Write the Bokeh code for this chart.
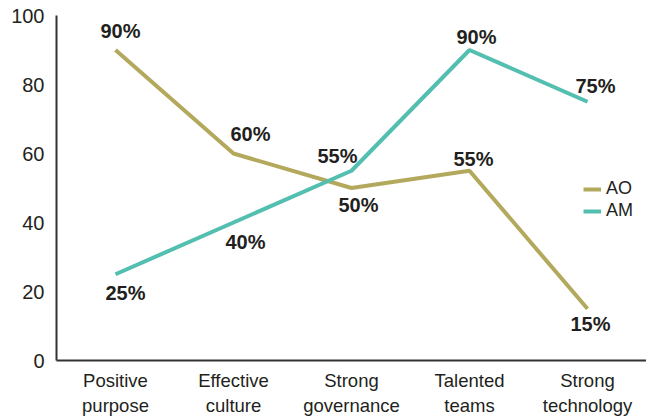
from bokeh.plotting import figure
from bokeh.models import ColumnDataSource, Legend, LegendItem, FixedTicker
from bokeh.core.properties import value
from bokeh.embed import file_html
from bokeh.resources import INLINE

categories = ["Positive\npurpose", "Effective\nculture", "Strong\ngovernance", "Talented\nteams", "Strong\ntechnology"]
ao_values = [90, 60, 50, 55, 15]
am_values = [25, 40, 55, 90, 75]
y_ticks = [0, 20, 40, 60, 80, 100]

# label placement (style only, screen px, positive = down)
ao_dx = [5, 17, 7, 4, 3]
ao_dy = [-19, -20, 17, -12, 15]
am_dx = [10, 12, -14, 7, 8]
am_dy = [19, 19, -15, -13, -16]

AO_COLOR = "#b3a95d"
AM_COLOR = "#52bfb0"
FONT = "Liberation Sans"

p = figure(x_range=categories, y_range=(0, 100), width=646, height=418,
           output_backend="svg", toolbar_location=None,
           min_border_left=56, min_border_right=0, min_border_top=15, min_border_bottom=58)
p.outline_line_color = None
p.xgrid.visible = False
p.ygrid.visible = False
p.x_range.range_padding = 0
p.background_fill_color = "white"

ao_src = ColumnDataSource(dict(x=categories, y=ao_values,
                               t=[f"{v}%" for v in ao_values], dx=ao_dx, dy=ao_dy))
am_src = ColumnDataSource(dict(x=categories, y=am_values,
                               t=[f"{v}%" for v in am_values], dx=am_dx, dy=am_dy))

r_ao = p.line("x", "y", source=ao_src, line_color=AO_COLOR, line_width=4)
r_am = p.line("x", "y", source=am_src, line_color=AM_COLOR, line_width=4)

for src in (ao_src, am_src):
    p.text("x", "y", text="t", source=src, x_offset="dx", y_offset="dy",
           text_font=value(FONT), text_font_style="bold", text_font_size="20px",
           text_color="#231f20", text_align="center", text_baseline="middle")

for ax in (p.xaxis[0], p.yaxis[0]):
    ax.axis_line_color = "#333333"
    ax.axis_line_width = 2
    ax.major_tick_line_color = None
    ax.minor_tick_line_color = None
    ax.major_tick_out = 0
    ax.major_tick_in = 0
    ax.minor_tick_out = 0
    ax.major_label_text_font = FONT
    ax.major_label_text_color = "#231f20"

p.xaxis[0].major_label_text_font_size = "18.5px"
p.yaxis[0].major_label_text_font_size = "20px"
p.yaxis[0].ticker = FixedTicker(ticks=y_ticks)
p.yaxis[0].major_label_standoff = 12
p.xaxis[0].major_label_standoff = 9

legend = Legend(items=[LegendItem(label="AO", renderers=[r_ao]),
                       LegendItem(label="AM", renderers=[r_am])],
                location=(527, 139), padding=0, margin=0, spacing=1,
                glyph_width=18, glyph_height=20, label_height=20, label_standoff=5,
                label_text_font=FONT, label_text_font_size="18px",
                label_text_color="#231f20",
                background_fill_alpha=0, border_line_color=None)
p.add_layout(legend, "center")

open("out.html", "w").write(file_html(p, INLINE))
